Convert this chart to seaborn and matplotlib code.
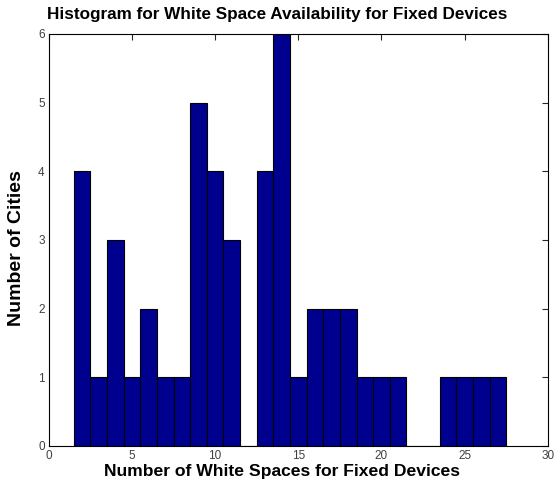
import numpy as np
import seaborn as sns
import matplotlib.pyplot as plt

# white spaces per city (bin centres) and how many cities fall in each
white_spaces = [2, 3, 4, 5, 6, 7, 8, 9, 10, 11, 12, 13, 14, 15, 16, 17, 18,
                19, 20, 21, 22, 23, 24, 25, 26, 27]
num_cities = [4, 1, 3, 1, 2, 1, 1, 5, 4, 3, 0, 4, 6, 1, 2, 2, 2,
              1, 1, 1, 0, 0, 1, 1, 1, 1]

x_ticks = [0, 5, 10, 15, 20, 25, 30]
y_ticks = [0, 1, 2, 3, 4, 5, 6]

sns.set_style('white')
plt.rcParams['font.family'] = ['Liberation Sans', 'DejaVu Sans']
plt.rcParams['text.color'] = 'black'
plt.rcParams['axes.labelcolor'] = 'black'

fig = plt.figure(figsize=(5.55, 4.91), dpi=100)
ax = fig.add_axes([0.088, 0.092, 0.899, 0.839])

sns.histplot(x=white_spaces, weights=num_cities, discrete=True,
             color='#00008F', edgecolor='black', linewidth=0.8,
             alpha=1, ax=ax)

ax.set_xlim(0, 30)
ax.set_ylim(0, 6)
ax.set_xticks(x_ticks)
ax.set_yticks(y_ticks)
ax.tick_params(direction='in', length=4, width=0.8, top=True, right=True,
               labelsize=8.5, labelcolor='#404040', pad=3)
for s in ax.spines.values():
    s.set_color('black')
    s.set_linewidth(0.8)

# matlab-ish placement: titles sit a bit left of centre
ax.set_title('Histogram for White Space Availability for Fixed Devices',
             fontsize=12.3, fontweight='bold', x=0.457, pad=11)
ax.set_xlabel('Number of White Spaces for Fixed Devices', fontsize=12.6,
              fontweight='bold')
ax.xaxis.set_label_coords(0.467, -0.045)
ax.set_ylabel('Number of Cities', fontsize=14, fontweight='bold')
ax.yaxis.set_label_coords(-0.048, 0.48)

fig.savefig('out.png', dpi=100)
